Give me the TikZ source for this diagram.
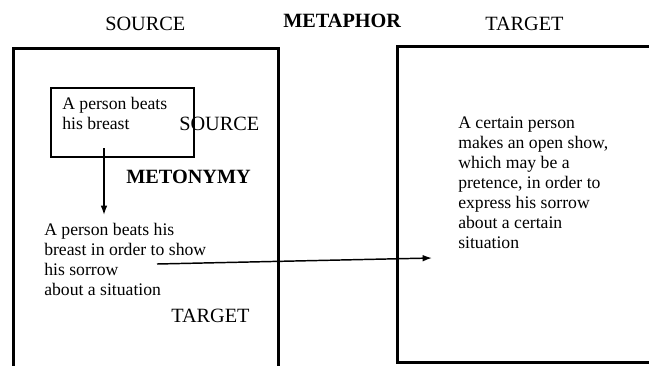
\documentclass[tikz,border=0pt]{standalone}
\usepackage{fontspec}
\setmainfont{Liberation Serif}
\usetikzlibrary{arrows.meta,positioning}
\begin{document}
\begin{tikzpicture}[
x=0.75pt, y=-0.75pt,
every node/.style={inner sep=0pt, anchor=base west, align=left, font=\fontsize{13.25}{15}\selectfont},
head/.style={font=\fontsize{15.2}{18}\selectfont},
headbf/.style={font=\fontsize{15.2}{18}\selectfont\bfseries},
domainbox/.style={draw, line width=2.25pt},
arr/.style={-{Latex[length=7pt,width=5pt]}, line width=1.1pt}
]
\useasboundingbox (0,0) rectangle (649,365);
% headings
\node[head] (srchead) at (105,30) {SOURCE};
\node[headbf] (metaphor) at (283,27) {METAPHOR};
\node[head] (tgthead) at (485,30) {TARGET};
% the two domains
\draw[domainbox] (13,48) rectangle (278,367);
\draw[domainbox] (397,46) rectangle (653,362);
% metonymy inside the source domain
\node[draw, line width=1.5pt, anchor=north west, minimum width=107.25pt, minimum height=51.75pt] (persbox) at (50,87) {};
\node (beats) at (62,129) {A person beats\\his breast};
\node[head] (srclabel) at (179,130) {SOURCE};
\node[headbf] (metonymy) at (126,183) {METONYMY};
\node (shows) at (44,295) {A person beats his\\breast in order to show\\his sorrow\\about a situation};
\node[head] (tgtlabel) at (171,322) {TARGET};
% target domain text
\node (expresses) at (458,248) {A certain person\\makes an open show,\\which may be a\\pretence, in order to\\express his sorrow\\about a certain\\situation};
% connectors
\coordinate (beatfrom) at (104,148);
\coordinate (beatto) at (104,215);
\coordinate (showfrom) at (157,264);
\coordinate (showto) at (432,258);
\draw[arr] (beatfrom) -- (beatto);
\draw[arr] (showfrom) -- (showto);
\end{tikzpicture}
\end{document}
